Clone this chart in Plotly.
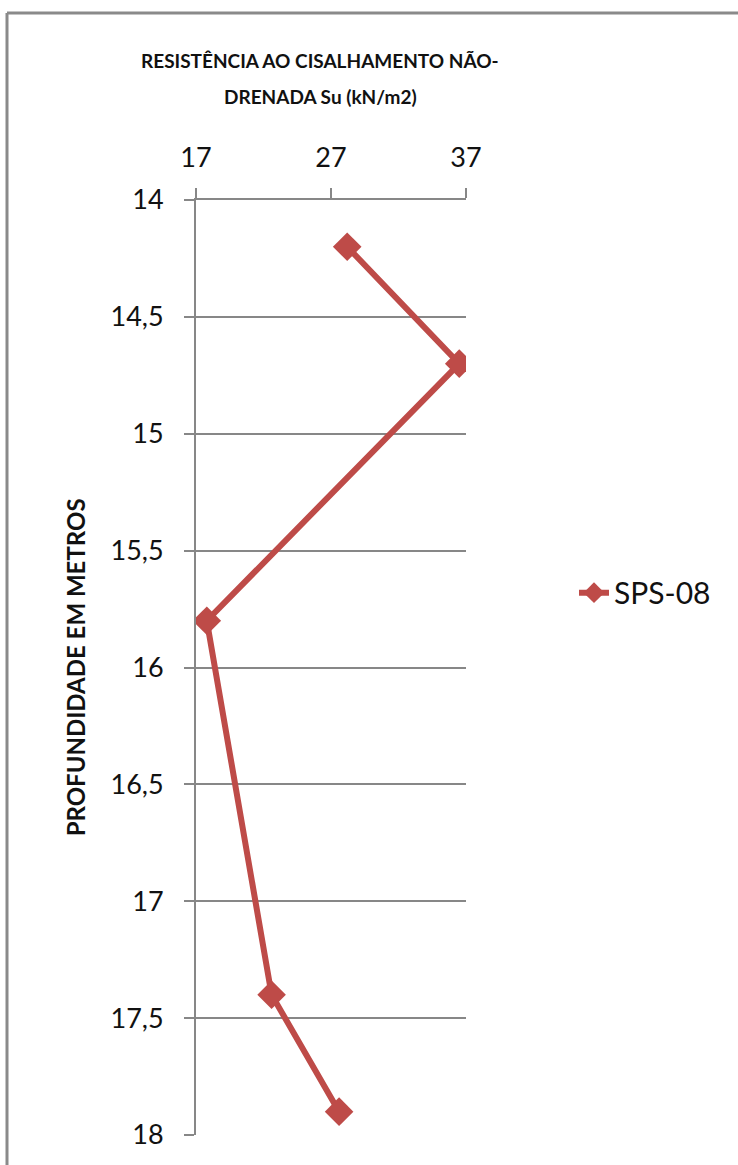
import plotly.graph_objects as go

# Undrained shear strength profile, borehole SPS-08
su_kn_m2 = [28.2, 36.5, 17.8, 22.6, 27.6]
depth_m = [14.2, 14.7, 15.8, 17.4, 17.9]
series_name = "SPS-08"

x_ticks = [17, 27, 37]
y_ticks = [14, 14.5, 15, 15.5, 16, 16.5, 17, 17.5, 18]

title_lines = ["RESISTÊNCIA AO CISALHAMENTO NÃO-", "DRENADA Su (kN/m2)"]
y_title = "PROFUNDIDADE EM METROS"

RED = "#BE4B48"
GRID = "#878787"
FONT = "Lato"
TICK_FONT = dict(family=FONT, size=27, color="#111111")

fig = go.Figure()
fig.add_trace(go.Scatter(
    x=su_kn_m2, y=depth_m, name=series_name, mode="lines+markers",
    line=dict(color=RED, width=6),
    marker=dict(symbol="diamond", size=22, color=RED),
))

fig.update_layout(
    width=738, height=1165,
    margin=dict(l=196, r=272, t=200, b=30),
    paper_bgcolor="white", plot_bgcolor="white",
    separators=", ",
    showlegend=True,
    legend=dict(
        x=1.40, y=0.58, xanchor="left", yanchor="middle",
        font=dict(family=FONT, size=30, color="#111111"),
        bgcolor="rgba(0,0,0,0)",
    ),
    xaxis=dict(
        side="top", range=[17, 37], tickvals=x_ticks,
        showgrid=False, zeroline=False,
        showline=True, linecolor=GRID, linewidth=2,
        ticks="outside", ticklen=10, tickwidth=2, tickcolor=GRID,
        tickfont=TICK_FONT, ticklabelstandoff=10,
    ),
    yaxis=dict(
        range=[18, 14], tickvals=y_ticks,
        showgrid=True, gridcolor=GRID, gridwidth=2, zeroline=False,
        showline=True, linecolor=GRID, linewidth=2,
        ticks="outside", ticklen=10, tickwidth=2, tickcolor=GRID,
        tickfont=TICK_FONT, ticklabelstandoff=15,
    ),
)

# Chart titles
title_font = dict(family=FONT, size=19, color="#111111", weight="bold")
fig.add_annotation(
    text=title_lines[0], xref="paper", yref="paper",
    x=0.46, y=1.149, xanchor="center", yanchor="middle", showarrow=False,
    font=title_font,
)
fig.add_annotation(
    text=title_lines[1], xref="paper", yref="paper",
    x=0.46, y=1.111, xanchor="center", yanchor="middle", showarrow=False,
    font=title_font,
)
fig.add_annotation(
    text=y_title, xref="paper", yref="paper",
    x=-0.445, y=0.5, xanchor="center", yanchor="middle", showarrow=False,
    textangle=-90,
    font=dict(family=FONT, size=24, color="#111111", weight="bold"),
)

# Chart-area frame (top and left edges)
fig.add_shape(type="line", xref="paper", yref="paper",
              x0=-0.70, x1=2.1, y0=1.2, y1=1.2,
              line=dict(color="#8A8A8A", width=3))
fig.add_shape(type="line", xref="paper", yref="paper",
              x0=-0.70, x1=-0.70, y0=1.2, y1=-0.06,
              line=dict(color="#8A8A8A", width=3))

fig.write_html("out.html")
